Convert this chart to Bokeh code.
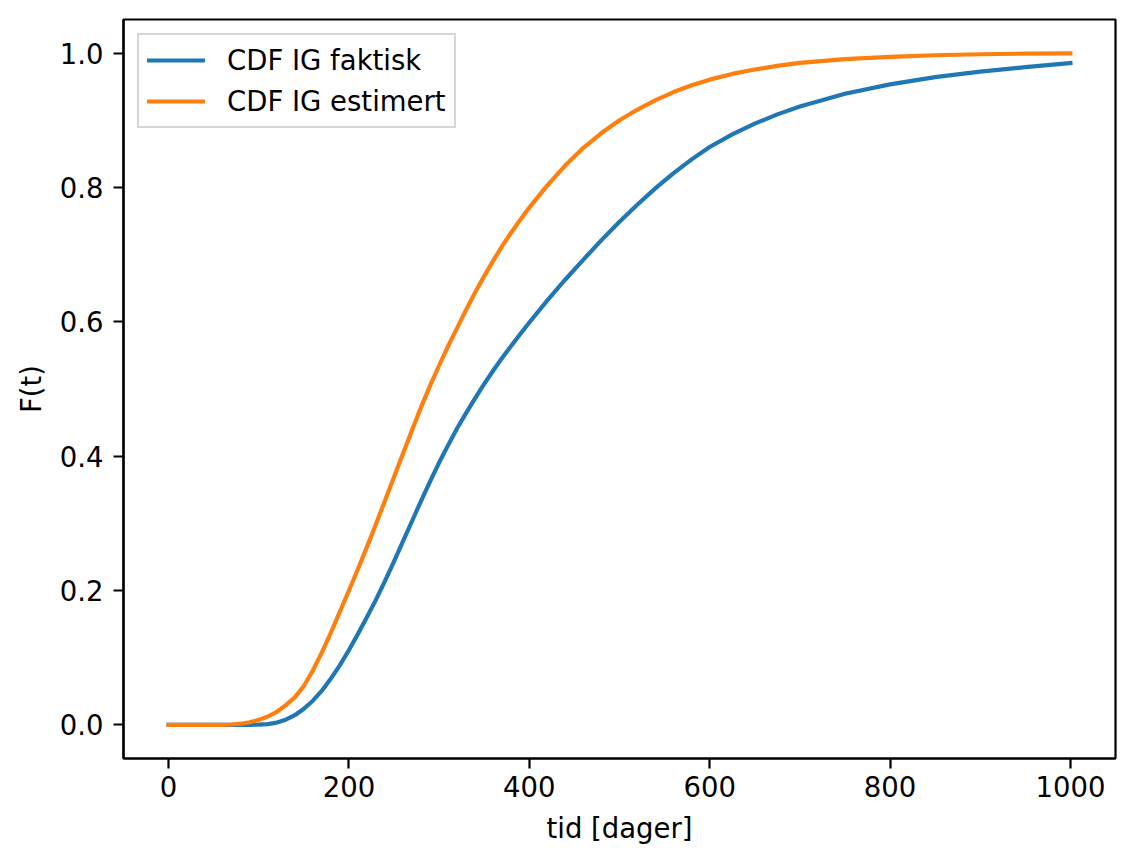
from bokeh.plotting import figure
from bokeh.models import Range1d, FixedTicker, NumeralTickFormatter, Legend, LegendItem
from bokeh.embed import file_html
from bokeh.resources import INLINE

# time grid (days)
t = [0, 50, 60, 70, 80, 90, 100, 110, 120, 130, 140, 150, 160, 170, 180, 190,
     200, 210, 220, 230, 240, 250, 260, 270, 280, 290, 300, 310, 320, 330, 340,
     350, 360, 370, 380, 390, 400, 420, 440, 460, 480, 500, 520, 540, 560, 580,
     600, 625, 650, 675, 700, 750, 800, 850, 900, 950, 1000]

# CDF IG faktisk (blue)
cdf_faktisk = [0.0, 0.0, 0.0, 0.0, 0.0, 0.0001, 0.0004, 0.0012, 0.0035, 0.0078,
               0.0145, 0.024, 0.036, 0.051, 0.069, 0.089, 0.1115, 0.1355, 0.1605,
               0.1865, 0.2145, 0.2435, 0.2735, 0.3035, 0.3335, 0.3625, 0.3905,
               0.4165, 0.4415, 0.4645, 0.4865, 0.5075, 0.5275, 0.5465, 0.5645,
               0.582, 0.599, 0.632, 0.663, 0.6926, 0.7216, 0.749, 0.7746, 0.799,
               0.8214, 0.8418, 0.8602, 0.879, 0.895, 0.9088, 0.9205, 0.9395,
               0.9535, 0.9643, 0.9725, 0.9791, 0.9852]

# CDF IG estimert (orange)
cdf_estimert = [0.0, 0.0, 0.0001, 0.0006, 0.0018, 0.004, 0.0075, 0.0125, 0.0195,
                0.0295, 0.041, 0.058, 0.081, 0.108, 0.1375, 0.1685, 0.200, 0.232,
                0.265, 0.299, 0.334, 0.369, 0.404, 0.439, 0.473, 0.505, 0.535,
                0.564, 0.591, 0.618, 0.644, 0.668, 0.691, 0.713, 0.733, 0.752,
                0.770, 0.803, 0.833, 0.859, 0.881, 0.900, 0.916, 0.930, 0.942,
                0.952, 0.9605, 0.969, 0.9755, 0.981, 0.9855, 0.991, 0.9945,
                0.9968, 0.9983, 0.9992, 0.9996]

x_ticks = [0, 200, 400, 600, 800, 1000]
y_ticks = [0.0, 0.2, 0.4, 0.6, 0.8, 1.0]

FONT = "DejaVu Sans"
FS = "27.5px"

p = figure(width=1126, height=848, frame_width=992, frame_height=739,
           output_backend="svg", toolbar_location=None,
           x_range=Range1d(-50, 1050), y_range=Range1d(-0.05, 1.05),
           min_border_left=123, min_border_top=19, min_border_right=11,
           min_border_bottom=90)

p.background_fill_color = "white"
p.border_fill_color = "white"
p.outline_line_color = "black"
p.outline_line_width = 2.2
p.xgrid.visible = False
p.ygrid.visible = False

r1 = p.line(t, cdf_faktisk, line_color="#1f77b4", line_width=4.2,
            line_join="round", line_cap="square")
r2 = p.line(t, cdf_estimert, line_color="#ff7f0e", line_width=4.2,
            line_join="round", line_cap="square")

for ax in (p.xaxis[0], p.yaxis[0]):
    ax.axis_line_color = "black"
    ax.axis_line_width = 2.2
    ax.major_tick_line_color = "black"
    ax.major_tick_line_width = 2.2
    ax.major_tick_out = 10
    ax.major_tick_in = 0
    ax.minor_tick_line_color = None
    ax.major_label_text_font = FONT
    ax.major_label_text_font_size = FS
    ax.major_label_text_color = "black"
    ax.axis_label_text_font = FONT
    ax.axis_label_text_font_size = FS
    ax.axis_label_text_font_style = "normal"
    ax.axis_label_text_color = "black"

p.xaxis[0].ticker = FixedTicker(ticks=x_ticks)
p.yaxis[0].ticker = FixedTicker(ticks=y_ticks)
p.yaxis[0].formatter = NumeralTickFormatter(format="0.0")
p.xaxis[0].axis_label = "tid [dager]"
p.yaxis[0].axis_label = "F(t)"
p.xaxis[0].major_label_standoff = 7
p.yaxis[0].major_label_standoff = 10
p.xaxis[0].axis_label_standoff = 12
p.yaxis[0].axis_label_standoff = 10

legend = Legend(items=[LegendItem(label="CDF IG faktisk", renderers=[r1]),
                       LegendItem(label="CDF IG estimert", renderers=[r2])],
                location="top_left")
legend.margin = 14
legend.padding = 8
legend.spacing = 7
legend.glyph_width = 58
legend.glyph_height = 34
legend.label_height = 34
legend.label_standoff = 22
legend.label_text_font = FONT
legend.label_text_font_size = FS
legend.label_text_color = "black"
legend.border_line_color = "#cccccc"
legend.border_line_width = 2
legend.border_line_alpha = 0.8
legend.background_fill_color = "white"
legend.background_fill_alpha = 0.8
p.add_layout(legend, "center")

open("out.html", "w").write(file_html(p, INLINE))
